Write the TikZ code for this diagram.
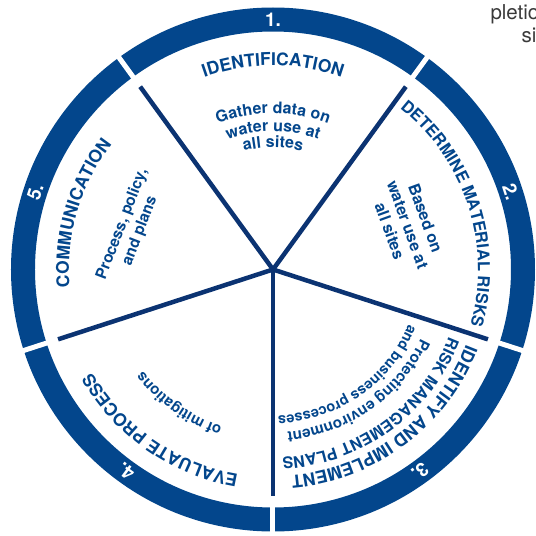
\documentclass[tikz,border=0pt]{standalone}
\usepackage{fontspec}
\setmainfont{TeX Gyre Heros}
\usetikzlibrary{decorations.text}

\definecolor{ringblue}{HTML}{03468C}
\definecolor{spokeblue}{HTML}{0B3372}
\definecolor{pagegray}{HTML}{3A3A3A}

\newcommand{\bfsz}[1]{\fontsize{#1}{#1}\selectfont\bfseries}

\begin{document}
\begin{tikzpicture}[
		x=1pt, y=1pt,
		spoke/.style = {draw=spokeblue, line width=4.5pt},
		gap/.style = {draw=white, line width=5pt},
		nr/.style = {text=white, font=\bfsz{19}},
		arctext/.style = {decorate, decoration={text along path, text align=center, text color=ringblue, text={#1}}},
		flat/.style = {text=ringblue, align=center, font=\bfseries\fontsize{#1}{19}\selectfont},
		page/.style = {anchor=base west, text=pagegray, font=\fontsize{20.5}{20.5}\selectfont},
		]
		
		\clip (-273, -266.5) rectangle (263, 269.5);
		
		%Ring
		\fill[ringblue, even odd rule] (0, 0) circle[radius=262] (0, 0) circle[radius=238];
		\foreach \a in {54, 126, 198, 270, 342}
			\draw[gap] (\a:233) -- (\a:267);
		
		%Spokes
		\coordinate (hub) at (0, 0);
		\foreach \a in {54, 126, 198, 270, 342}
			\draw[spoke] (hub) -- (\a:226);
		\fill[spokeblue] (hub) circle[radius=2.25];
		
		%Step numbers
		\foreach \n/\a in {1/90, 2/18, 3/-54, 4/234, 5/162}
			\node[nr, rotate=\a-90] (nr\n) at (\a:250) {\n.};
		
		%1. Identification
		\path[arctext={|\bfsz{17.5}|IDENTIFICATION}]		(135:204) arc[start angle=135, end angle=45, radius=204];
		\path[arctext={|\bfsz{16}|Gather data on}]			(130:156) arc[start angle=130, end angle=50, radius=156];
		\path[arctext={|\bfsz{16}|water use at}]			(130:138) arc[start angle=130, end angle=50, radius=138];
		\path[arctext={|\bfsz{16}|all sites}]				(130:122) arc[start angle=130, end angle=50, radius=122];
		
		%2. Determine material risks
		\path[arctext={|\bfsz{16.5}|DETERMINE MATERIAL RISKS}]	(63:205) arc[start angle=63, end angle=-27, radius=205];
		\node[flat=16, rotate=-70]	(based)		at	(18.4:142)	{Based on\\water use at\\all sites};
		
		%3. Identify and implement
		\path[arctext={|\bfsz{17.5}|IDENTIFY AND IMPLEMENT}]	(-8:207) arc[start angle=-8, end angle=-98, radius=207];
		\path[arctext={|\bfsz{16}|RISK MANAGEMENT PLANS}]		(-9:188) arc[start angle=-9, end angle=-99, radius=188];
		\path[arctext={|\bfsz{15.2}|Protecting environment}]	(-10:163) arc[start angle=-10, end angle=-100, radius=163];
		\path[arctext={|\bfsz{14.5}|and business processes}]	(-10:146) arc[start angle=-10, end angle=-100, radius=146];
		
		%4. Evaluate process
		\path[arctext={|\bfsz{17.5}|EVALUATE PROCESS}]		(280:208) arc[start angle=280, end angle=190, radius=208];
		\path[arctext={|\bfsz{15}|of mitigations}]			(280:165) arc[start angle=280, end angle=190, radius=165];
		
		%5. Communication
		\path[arctext={|\bfsz{17.5}|COMMUNICATION}]		(208.5:204) arc[start angle=208.5, end angle=118.5, radius=204];
		\node[flat=15.5, rotate=69]	(process)	at	(163.5:148)	{Process, policy,\\and plans};
		
		%Page text
		\node[page]	(pletio)	at	(214, 249.5)	{pletio};
		\node[page]	(sit)		at	(245, 226.5)	{sit};
	\end{tikzpicture}
\end{document}
